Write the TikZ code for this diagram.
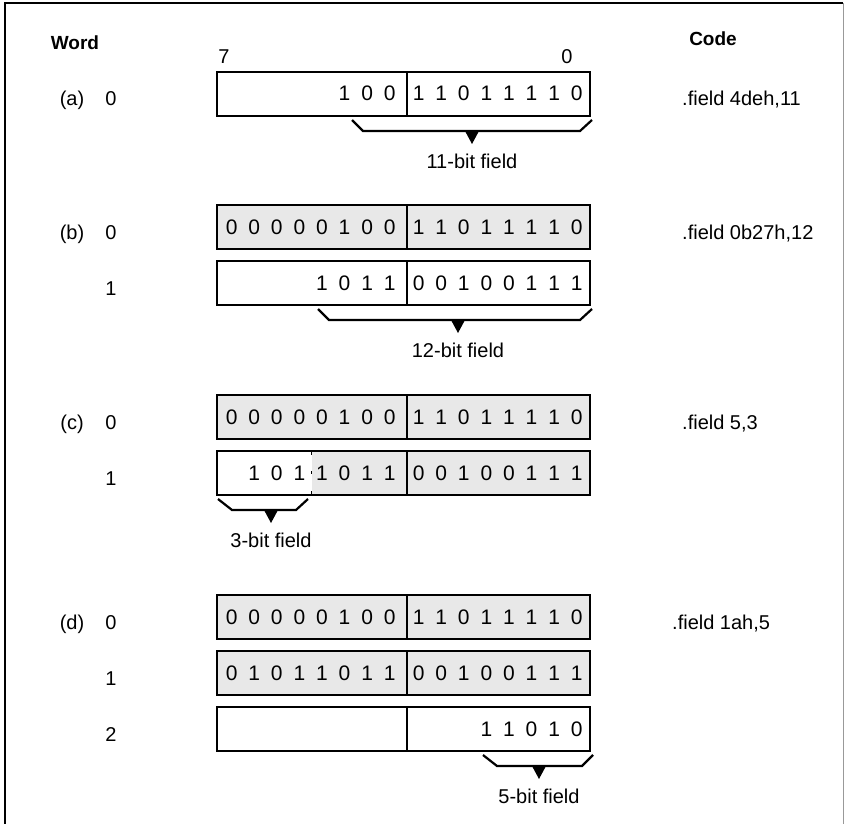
\documentclass[tikz,border=0pt]{standalone}
\usepackage{fontspec}
\setmainfont{Liberation Sans}
\newfontfamily\bitfont[WordSpace=1.87]{Liberation Sans}
\usetikzlibrary{calc,positioning}

\tikzset{
  half/.style={draw,rectangle,line width=2.2pt,minimum height=44pt,outer sep=0pt,inner sep=0pt},
  lefthalf/.style={half,minimum width=190pt},
  righthalf/.style={half,minimum width=183pt},
  stipple/.style={fill=black!9},
  bits/.style={anchor=base east,inner sep=0pt,font=\bitfont\fontsize{21}{25}\selectfont},
  lbl/.style={anchor=base,inner sep=0pt,font=\fontsize{20}{24}\selectfont},
  head/.style={lbl,font=\bfseries\fontsize{19}{23}\selectfont},
  brace/.style={line width=2.2pt},
}

\begin{document}
\begin{tikzpicture}[x=1pt,y=-1pt]
\useasboundingbox (0,0) rectangle (846,824);
\draw[line width=2.4pt] (5,824) -- (5,3) -- (843,3);
\draw[line width=0.8pt,black!40] (843,3) -- (843,824);

\node[head] (word) at (75,50) {Word};
\node[head] (code) at (713,46) {Code};

% (a)
\node[lefthalf] (a0l) at (312,94) {};
\node[righthalf,right=0pt of a0l] (a0r) {};
\node[lbl] (msb) at ($(a0l.north west)+(7,-8)$) {7};
\node[lbl] (lsb) at ($(a0r.north east)+(-23,-8)$) {0};
\node[bits] (a0lb) at ($(a0l.east)+(-11.2,7)$) {1 0 0};
\node[bits] (a0rb) at ($(a0r.east)+(-7.2,7)$) {1 1 0 1 1 1 1 0};
\node[lbl] (a) at ($(a0l.west)+(-145,12)$) {(a)};
\node[lbl] (a0n) at ($(a0l.west)+(-106,12)$) {0};
\node[lbl,anchor=base west] (a0c) at ($(a0r.east)+(92,12)$) {.field 4deh,11};
\draw[brace] ($(a0l.south east)+(-55,4)$) -- ++(11,11) -- ($(a0r.south east)+(-10,15)$) -- ++(12,-11);
\coordinate (a0m) at ($(a0r.south east)+(-118,15)$);
\fill (a0m) ++(-7,0) -- ++(14,0) -- ++(-7,13) -- cycle;
\node[lbl] (a0f) at ($(a0m)+(0,37)$) {11-bit field};

% (b)
\node[lefthalf,stipple] (b0l) at (312,227) {};
\node[righthalf,stipple,right=0pt of b0l] (b0r) {};
\node[lefthalf,below=12pt of b0l] (b1l) {};
\node[righthalf,right=0pt of b1l] (b1r) {};
\node[bits] (b0lb) at ($(b0l.east)+(-11.2,7)$) {0 0 0 0 0 1 0 0};
\node[bits] (b0rb) at ($(b0r.east)+(-7.2,7)$) {1 1 0 1 1 1 1 0};
\node[bits] (b1lb) at ($(b1l.east)+(-11.2,7)$) {1 0 1 1};
\node[bits] (b1rb) at ($(b1r.east)+(-7.2,7)$) {0 0 1 0 0 1 1 1};
\node[lbl] (b) at ($(b0l.west)+(-145,12)$) {(b)};
\node[lbl] (b0n) at ($(b0l.west)+(-106,12)$) {0};
\node[lbl] (b1n) at ($(b1l.west)+(-106,12)$) {1};
\node[lbl,anchor=base west] (b0c) at ($(b0r.east)+(92,12)$) {.field 0b27h,12};
\draw[brace] ($(b1l.south east)+(-89,4)$) -- ++(11,11) -- ($(b1r.south east)+(-10,15)$) -- ++(12,-11);
\coordinate (b1m) at ($(b1r.south east)+(-132,15)$);
\fill (b1m) ++(-7,0) -- ++(14,0) -- ++(-7,13) -- cycle;
\node[lbl] (b1f) at ($(b1m)+(0,37)$) {12-bit field};

% (c)
\node[lefthalf,stipple] (c0l) at (312,417) {};
\node[righthalf,stipple,right=0pt of c0l] (c0r) {};
\node[lefthalf,below=12pt of c0l] (c1l) {};
\node[righthalf,stipple,right=0pt of c1l] (c1r) {};
\fill[black!9] ($(c1l.north west)+(95,1.2)$) rectangle ($(c1l.south east)+(-1.2,-1.2)$);
\draw[line width=1pt,dash pattern=on 4pt off 16pt on 3pt off 17pt on 4pt] ($(c1l.north west)+(94,0)$) -- ($(c1l.south west)+(94,0)$);
\node[bits] (c0lb) at ($(c0l.east)+(-11.2,7)$) {0 0 0 0 0 1 0 0};
\node[bits] (c0rb) at ($(c0r.east)+(-7.2,7)$) {1 1 0 1 1 1 1 0};
\node[bits] (c1lb) at ($(c1l.east)+(-11.2,7)$) {1 0 1 1 0 1 1};
\node[bits] (c1rb) at ($(c1r.east)+(-7.2,7)$) {0 0 1 0 0 1 1 1};
\node[lbl] (c) at ($(c0l.west)+(-145,12)$) {(c)};
\node[lbl] (c0n) at ($(c0l.west)+(-106,12)$) {0};
\node[lbl] (c1n) at ($(c1l.west)+(-106,12)$) {1};
\node[lbl,anchor=base west] (c0c) at ($(c0r.east)+(92,12)$) {.field 5,3};
\draw[brace] ($(c1l.south west)+(1,4)$) -- ++(14,11) -- ($(c1l.south west)+(79,15)$) -- ++(12,-11);
\coordinate (c1m) at ($(c1l.south west)+(54,15)$);
\fill (c1m) ++(-7,0) -- ++(14,0) -- ++(-7,13) -- cycle;
\node[lbl] (c1f) at ($(c1m)+(0,37)$) {3-bit field};

% (d)
\node[lefthalf,stipple] (d0l) at (312,617) {};
\node[righthalf,stipple,right=0pt of d0l] (d0r) {};
\node[lefthalf,stipple,below=12pt of d0l] (d1l) {};
\node[righthalf,stipple,right=0pt of d1l] (d1r) {};
\node[lefthalf,below=12pt of d1l] (d2l) {};
\node[righthalf,right=0pt of d2l] (d2r) {};
\node[bits] (d0lb) at ($(d0l.east)+(-11.2,7)$) {0 0 0 0 0 1 0 0};
\node[bits] (d0rb) at ($(d0r.east)+(-7.2,7)$) {1 1 0 1 1 1 1 0};
\node[bits] (d1lb) at ($(d1l.east)+(-11.2,7)$) {0 1 0 1 1 0 1 1};
\node[bits] (d1rb) at ($(d1r.east)+(-7.2,7)$) {0 0 1 0 0 1 1 1};
\node[bits] (d2rb) at ($(d2r.east)+(-7.2,7)$) {1 1 0 1 0};
\node[lbl] (d) at ($(d0l.west)+(-145,12)$) {(d)};
\node[lbl] (d0n) at ($(d0l.west)+(-106,12)$) {0};
\node[lbl] (d1n) at ($(d1l.west)+(-106,12)$) {1};
\node[lbl] (d2n) at ($(d2l.west)+(-106,12)$) {2};
\node[lbl,anchor=base west] (d0c) at ($(d0r.east)+(82,12)$) {.field 1ah,5};
\draw[brace] ($(d2r.south east)+(-107,4)$) -- ++(14,11) -- ($(d2r.south east)+(-8,15)$) -- ++(11,-11);
\coordinate (d2m) at ($(d2r.south east)+(-51,15)$);
\fill (d2m) ++(-7,0) -- ++(14,0) -- ++(-7,13) -- cycle;
\node[lbl] (d2f) at ($(d2m)+(0,37)$) {5-bit field};

\end{tikzpicture}
\end{document}
